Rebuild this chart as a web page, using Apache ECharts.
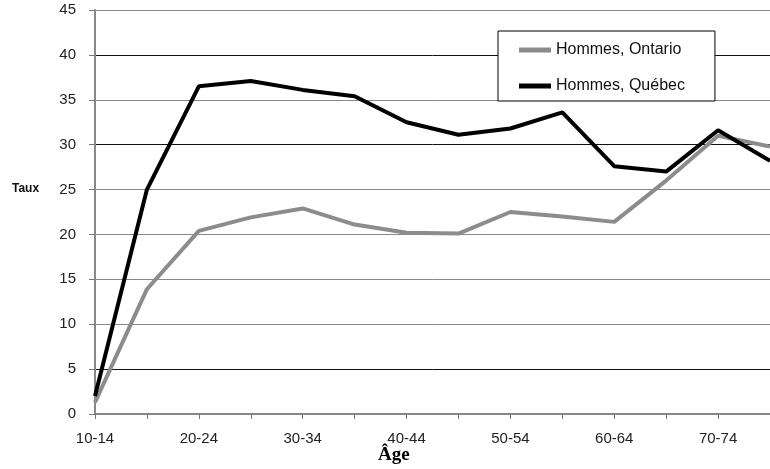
<!DOCTYPE html>
<html>
<head>
<meta charset="utf-8">
<script src="https://cdn.jsdelivr.net/npm/echarts@6/dist/echarts.min.js"></script>
<style>html,body{margin:0;padding:0;background:#fff;}#c{width:770px;height:469px;}</style>
</head>
<body>
<div id="c"></div>
<script>
var categories = ['10-14','15-19','20-24','25-29','30-34','35-39','40-44','45-49','50-54','55-59','60-64','65-69','70-74','75-79'];
var ontario = [1.3, 13.9, 20.4, 21.9, 22.9, 21.1, 20.2, 20.1, 22.5, 22.0, 21.4, 26.0, 31.0, 29.8];
var quebec = [2.0, 25.0, 36.5, 37.1, 36.1, 35.4, 32.5, 31.1, 31.8, 33.6, 27.6, 27.0, 31.6, 28.2];
var seriesNames = ['Hommes, Ontario', 'Hommes, Québec'];
var yTicks = {min: 0, max: 45, interval: 5};

var chart = echarts.init(document.getElementById('c'), null, {renderer: 'canvas'});
chart.setOption({
  animation: false,
  backgroundColor: '#fff',
  textStyle: {fontFamily: 'Liberation Sans, Arial, sans-serif'},
  grid: {left: 95, right: 0, top: 10, bottom: 55, containLabel: false},
  legend: {
    orient: 'vertical',
    left: 498, top: 31,
    padding: [11, 30, 7, 21],
    itemGap: 20,
    itemWidth: 32, itemHeight: 5,
    icon: 'rect',
    backgroundColor: '#fff',
    borderColor: '#000', borderWidth: 1,
    textStyle: {fontSize: 16, color: '#111', fontFamily: 'Liberation Sans, Arial, sans-serif'},
    data: seriesNames
  },
  xAxis: {
    type: 'category',
    data: categories,
    boundaryGap: false,
    axisLine: {lineStyle: {color: '#888', width: 2}},
    axisTick: {show: true, interval: 0, length: 5, lineStyle: {color: '#777'}},
    axisLabel: {interval: 1, fontSize: 15, color: '#222', margin: 17},
    splitLine: {show: false}
  },
  yAxis: {
    type: 'value',
    min: yTicks.min, max: yTicks.max, interval: yTicks.interval,
    axisLine: {show: true, lineStyle: {color: '#888', width: 2}},
    axisTick: {show: true, length: 6, lineStyle: {color: '#777'}},
    axisLabel: {fontSize: 15, color: '#222', margin: 19},
    splitLine: {show: true, lineStyle: {width: 1, color: ['#888','#111','#888','#888','#888','#888','#111','#888','#111','#888']}}
  },
  graphic: [
    {type: 'text', left: 12, top: 183, style: {text: 'Taux', font: 'bold 12px "Liberation Sans", Arial, sans-serif', fill: '#111'}},
    {type: 'text', left: 378, top: 446, style: {text: 'Âge', font: 'bold 19px "Liberation Serif", "Times New Roman", serif', fill: '#000'}}
  ],
  series: [
    {name: seriesNames[0], type: 'line', data: ontario, showSymbol: false, symbol: 'none',
     lineStyle: {width: 4, color: '#8c8c8c'}, itemStyle: {color: '#8c8c8c'}, z: 2},
    {name: seriesNames[1], type: 'line', data: quebec, showSymbol: false, symbol: 'none',
     lineStyle: {width: 4, color: '#000'}, itemStyle: {color: '#000'}, z: 3}
  ]
});
</script>
</body>
</html>
